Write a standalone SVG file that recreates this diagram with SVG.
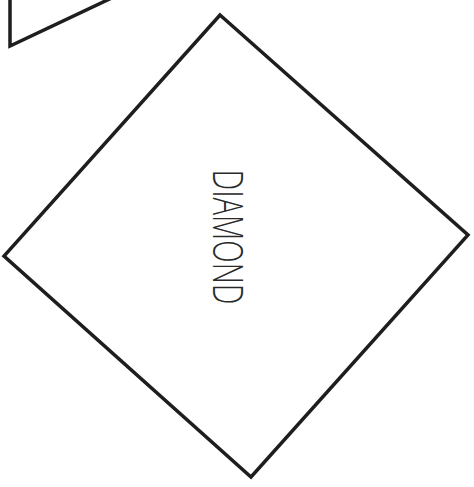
<svg xmlns="http://www.w3.org/2000/svg" width="474" height="487" viewBox="0 0 474 487">
<style>
.shape{fill:#fff;stroke:#1e1e1e;stroke-width:3.5;stroke-linejoin:miter}
.lbl{font-family:"Open Sans","Liberation Sans",sans-serif;font-weight:300;font-size:42px;fill:#2a2a2a}
</style>
<rect width="474" height="487" fill="#fff"/>
<g id="partial-shape">
<polyline class="shape" fill="none" points="10,-5 10,46 118,-5"/>
</g>
<g id="diamond">
<polygon class="shape" points="220,15 468,235 251,477 4,256"/>
<text class="lbl" transform="translate(228,237) rotate(90)" x="0" y="15" text-anchor="middle" textLength="135" lengthAdjust="spacingAndGlyphs">DIAMOND</text>
</g>
<g id="connectors"/>
</svg>
